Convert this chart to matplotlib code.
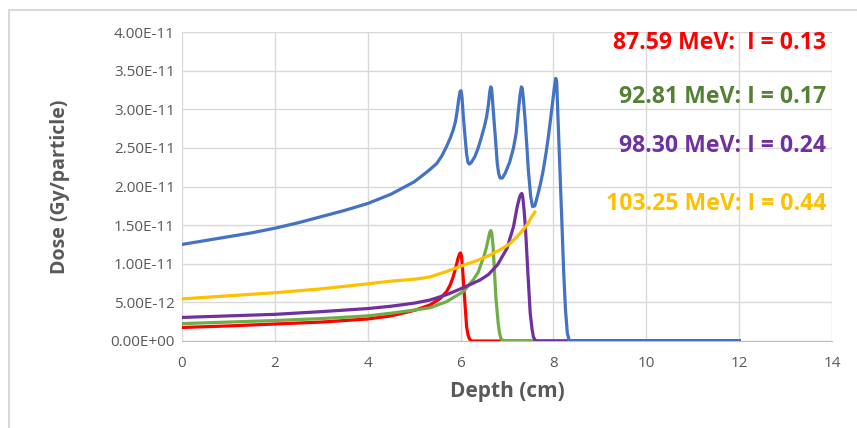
import matplotlib
matplotlib.use("Agg")
import matplotlib.pyplot as plt
from matplotlib.patches import Rectangle

# ---- data (dose in units of 1e-12 Gy/particle) ----
blue_depth = [0, 0.5, 1, 1.5, 2, 2.5, 3, 3.5, 4, 4.5, 5, 5.13, 5.3, 5.49, 5.6, 5.7, 5.78, 5.84,
              5.89, 5.93, 5.96, 5.99, 6.01, 6.03, 6.06, 6.1, 6.13, 6.16, 6.19, 6.23, 6.31, 6.38,
              6.45, 6.51, 6.56, 6.6, 6.63, 6.65, 6.67, 6.69, 6.72, 6.76, 6.79, 6.82, 6.85, 6.9,
              6.96, 7.06, 7.14, 7.2, 7.24, 7.28, 7.31, 7.33, 7.35, 7.39, 7.43, 7.46, 7.51, 7.55,
              7.6, 7.67, 7.73, 7.78, 7.84, 7.89, 7.94, 7.98, 8.02, 8.05, 8.07, 8.1, 8.14, 8.18,
              8.22, 8.26, 8.3, 8.34, 8.4, 12.0]
blue_dose = [12.5, 13.0, 13.5, 14.0, 14.6, 15.3, 16.1, 16.9, 17.8, 19.0, 20.6, 21.2, 22.0, 23.0,
             24.0, 25.2, 26.3, 27.3, 28.4, 29.9, 31.3, 32.3, 32.4, 31.6, 29.0, 26.2, 24.2, 23.1,
             22.9, 23.1, 23.9, 25.0, 26.4, 27.7, 29.0, 30.6, 32.3, 32.9, 32.6, 31.0, 28.6, 25.5,
             23.0, 21.7, 21.1, 21.1, 21.7, 23.2, 25.0, 27.0, 29.5, 31.8, 32.9, 32.7, 31.5, 28.6,
             25.0, 22.1, 18.7, 17.4, 17.5, 19.1, 20.6, 22.1, 24.3, 26.4, 28.8, 30.8, 32.8, 34.0,
             33.6, 28.6, 22.1, 15.7, 9.0, 4.0, 1.0, 0.1, 0.0, 0.0]

red_depth = [0, 1, 2, 3, 4, 4.5, 5, 5.34, 5.56, 5.7, 5.78, 5.84, 5.9, 5.95, 5.98, 6.0, 6.02, 6.04,
             6.06, 6.1, 6.13, 6.16, 6.19, 6.23, 12.0]
red_dose = [1.75, 1.95, 2.2, 2.45, 2.85, 3.25, 3.95, 4.66, 5.5, 6.4, 7.3, 8.3, 9.6, 10.8, 11.3,
            11.4, 11.0, 9.6, 7.9, 4.4, 1.85, 0.8, 0.3, 0.0, 0.0]

green_depth = [0, 1, 2, 3, 4, 4.5, 5, 5.34, 5.7, 6.06, 6.27, 6.38, 6.45, 6.51, 6.56, 6.6, 6.63,
               6.65, 6.67, 6.7, 6.72, 6.76, 6.81, 6.84, 6.87, 6.92, 12.0]
green_dose = [2.25, 2.45, 2.65, 2.9, 3.25, 3.6, 4.0, 4.3, 5.1, 6.4, 7.9, 8.9, 10.1, 11.1, 12.2,
              13.3, 14.1, 14.3, 14.0, 12.3, 10.1, 5.7, 2.3, 1.0, 0.3, 0.0, 0.0]

purple_depth = [0, 1, 2, 3, 4, 4.5, 5, 5.34, 5.7, 6.06, 6.42, 6.6, 6.8, 7.0, 7.14, 7.22, 7.27,
                7.3, 7.32, 7.34, 7.37, 7.4, 7.45, 7.5, 7.54, 7.57, 7.62, 12.0]
purple_dose = [3.05, 3.25, 3.45, 3.8, 4.2, 4.5, 4.9, 5.3, 6.0, 6.9, 7.9, 8.6, 9.9, 12.0, 14.8,
               17.4, 18.6, 19.0, 19.1, 18.6, 16.8, 14.4, 8.8, 3.6, 1.5, 0.5, 0.0, 0.0]

yellow_depth = [0, 1, 2, 3, 4, 4.5, 5, 5.2, 5.34, 5.7, 6.06, 6.35, 6.63, 6.85, 7.06, 7.2, 7.35,
                7.45, 7.53, 7.6]
yellow_dose = [5.45, 5.85, 6.25, 6.75, 7.4, 7.75, 8.0, 8.15, 8.3, 9.0, 9.8, 10.4, 11.1, 11.8, 12.6,
               13.4, 14.4, 15.2, 16.1, 16.7]

labels = ["87.59 MeV:  I = 0.13", "92.81 MeV: I = 0.17", "98.30 MeV: I = 0.24", "103.25 MeV: I = 0.44"]
label_colors = ["#FF0000", "#548235", "#7030A0", "#FFC000"]
label_y = [38.6e-12, 31.6e-12, 25.3e-12, 17.7e-12]

x_ticks = [0, 2, 4, 6, 8, 10, 12, 14]
y_ticks = [0, 5e-12, 1e-11, 1.5e-11, 2e-11, 2.5e-11, 3e-11, 3.5e-11, 4e-11]
y_tick_labels = ["0.00E+00", "5.00E-12", "1.00E-11", "1.50E-11", "2.00E-11",
                 "2.50E-11", "3.00E-11", "3.50E-11", "4.00E-11"]

# ---- figure ----
fig = plt.figure(figsize=(8.57, 4.28), dpi=100)
fig.patch.set_facecolor("white")
fig.patches.append(Rectangle((9 / 857, -0.01), 1.0, 1 - 10 / 428 + 0.01, transform=fig.transFigure,
                             fill=False, edgecolor="#D9D9D9", linewidth=1.5))

ax = fig.add_axes([182 / 857, 1 - 341 / 428, 650 / 857, 309 / 428])

def sc(v):
    return [d * 1e-12 for d in v]

lw = 2.3
ax.plot(red_depth, sc(red_dose), color="#FF0000", lw=lw, zorder=3)
ax.plot(green_depth, sc(green_dose), color="#70AD47", lw=lw, zorder=4)
ax.plot(purple_depth, sc(purple_dose), color="#7030A0", lw=lw, zorder=5)
ax.plot(yellow_depth, sc(yellow_dose), color="#FFC000", lw=lw, zorder=5)
ax.plot(blue_depth, sc(blue_dose), color="#4472C4", lw=lw, zorder=6)

ax.set_xlim(0, 14)
ax.set_ylim(0, 4e-11)
ax.set_xticks(x_ticks)
ax.set_xticklabels([str(t) for t in x_ticks])
ax.set_yticks(y_ticks)
ax.set_yticklabels(y_tick_labels)
ax.tick_params(axis="y", length=0, labelsize=11, labelcolor="#595959", pad=5)
ax.tick_params(axis="x", length=0, labelsize=11, labelcolor="#595959", pad=11)
for lab in ax.get_xticklabels() + ax.get_yticklabels():
    lab.set_family("Open Sans")
ax.grid(True, color="#D9D9D9", lw=1)
ax.set_axisbelow(True)
for s in ["top", "right", "left"]:
    ax.spines[s].set_visible(False)
ax.spines["bottom"].set_color("#BFBFBF")

ax.set_xlabel("Depth (cm)", fontsize=15, fontweight="bold", color="#595959",
              family="Open Sans", labelpad=7)
ax.set_ylabel("Dose (Gy/particle)", fontsize=14, fontweight="bold", color="#595959",
              family="Open Sans", labelpad=29)

for txt, c, yy in zip(labels, label_colors, label_y):
    ax.text(13.87, yy, txt, color=c, fontsize=16.6, fontweight="bold", family="Open Sans",
            ha="right", va="center", zorder=10)

fig.savefig("out.png", dpi=100)
